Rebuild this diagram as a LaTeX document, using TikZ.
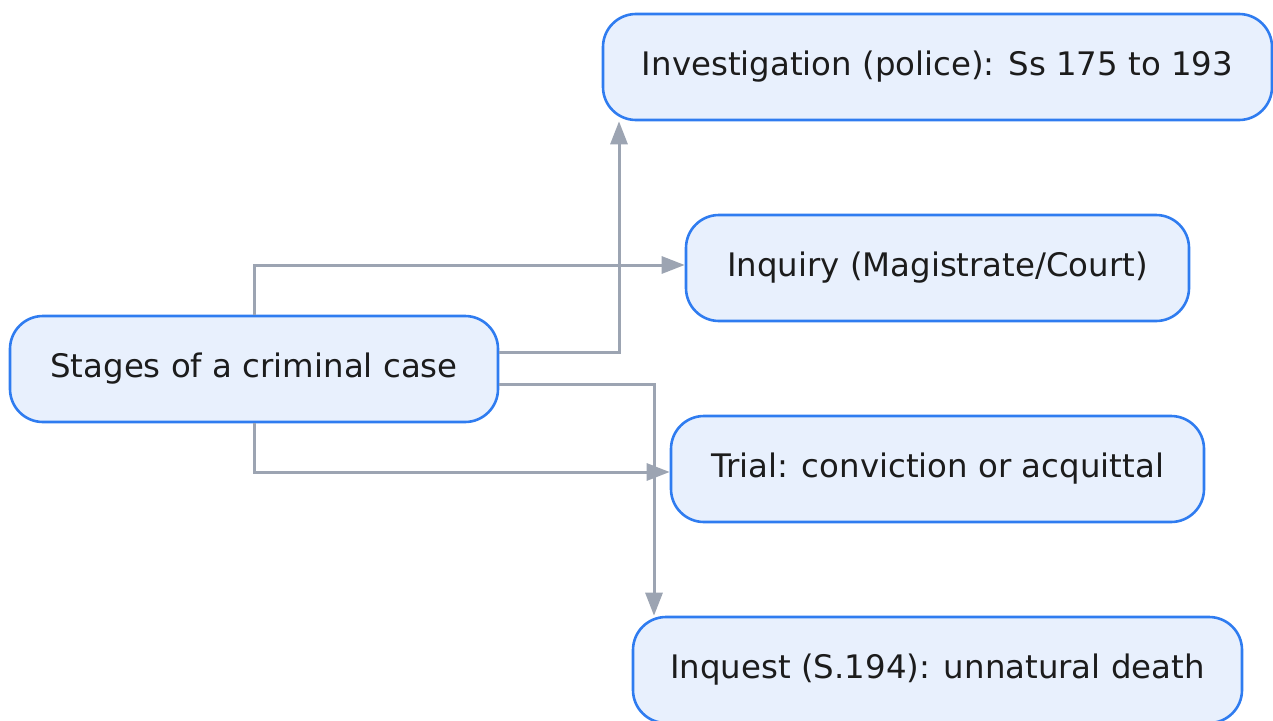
\documentclass[tikz,border=0pt]{standalone}
\usepackage{fontspec}
\setmainfont{DejaVu Sans}
\usetikzlibrary{arrows.meta}
\definecolor{boxfill}{HTML}{E8F0FD}
\definecolor{boxline}{HTML}{2F7CF0}
\definecolor{edgecol}{HTML}{9CA4B2}
\definecolor{txt}{HTML}{1C1C1C}
\tikzset{
  stage/.style={draw=boxline, fill=boxfill, line width=2.6pt, rounded corners=33pt,
    minimum height=106pt, inner sep=0pt, text=txt, font=\fontsize{32.4}{38}\selectfont},
  link/.style={draw=edgecol, line width=3pt,
    -{Triangle[length=23pt,width=17pt]}}
}
\begin{document}
\begin{tikzpicture}[x=1pt,y=-1pt]
  \useasboundingbox (0,0) rectangle (1273,720);
  \node[stage, minimum width=488pt] (root) at (254,369) {Stages of a criminal case};
  \node[stage, minimum width=669pt] (inv) at (937.5,67) {Investigation (police): Ss 175 to 193};
  \node[stage, minimum width=503pt] (inq) at (937.5,268) {Inquiry (Magistrate/Court)};
  \node[stage, minimum width=533pt] (trial) at (937.5,469) {Trial: conviction or acquittal};
  \node[stage, minimum width=609pt] (inquest) at (937.5,670) {Inquest (S.194): unnatural death};
  % connectors from the root to each stage
  \draw[link] (root.north) |- (inq.west |- 0,265);
  \draw[link] (root.east |- 0,352) -| (inv.south west -| 619,0);
  \draw[link] (root.east |- 0,384) -| (inquest.north west -| 654,0);
  \draw[link] (root.south) |- (trial.west |- 0,472);
\end{tikzpicture}
\end{document}
